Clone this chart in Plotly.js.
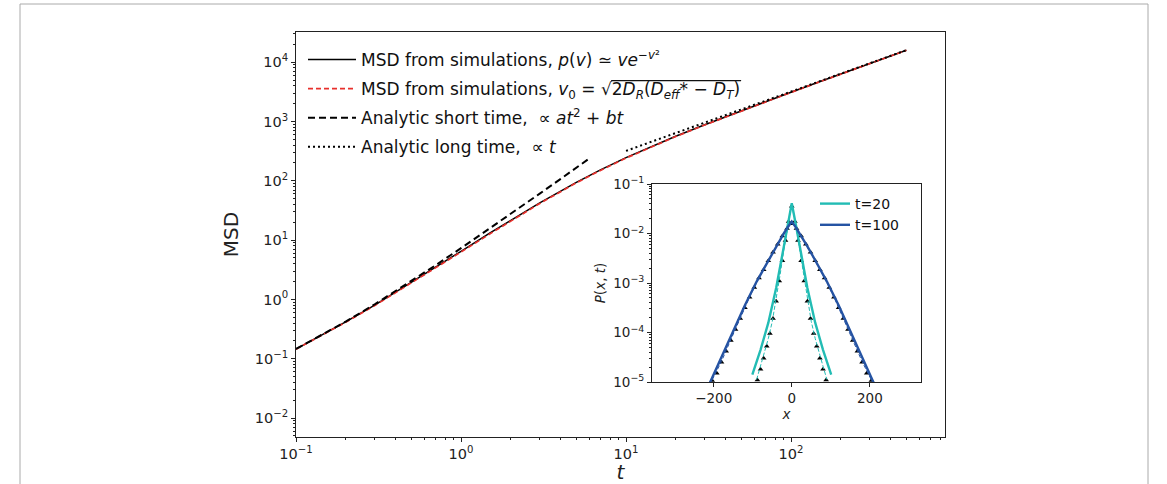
<!DOCTYPE html>
<html>
<head>
<meta charset="utf-8">
<script src="https://cdn.plot.ly/plotly-3.0.1.min.js"></script>
<style>html,body{margin:0;padding:0;background:#fff;}#chart{width:1167px;height:484px;}</style>
</head>
<body>
<div id="chart"></div>
<script>
// ---- main panel data ----
const tSim = [0.1,0.15,0.2,0.3,0.5,0.7,1,1.5,2,3,5,7,10,15,20,30,50,70,100,150,200,300,500];
const msdSimPv = [0.145,0.265,0.417,0.804,1.93,3.47,6.49,13.2,21.7,42.6,94.5,153,246,405,565,885,1526,2166,3126,4727,6327,9528,15930];
const msdSimV0 = [0.145,0.263,0.412,0.79,1.88,3.38,6.3,12.8,21.1,41.5,92.5,150,242,399,558,876,1512,2150,3105,4700,6300,9500,15900];
const tShort = [0.1,0.2,0.3,0.5,0.7,1,1.5,2,3,4,5,6];
const msdShort = [0.146,0.422,0.828,2.03,3.75,7.31,15.8,27.6,60.9,107,166.5,239];
const tLong = [10,20,50,100,200,500];
const msdLong = [320,640,1600,3200,6400,16000];

// ---- inset data ----
const x20 = [-101,-80,-60,-40,-20,-10,0,10,20,40,60,80,101];
const p20 = [1.41e-5,4.47e-5,1.58e-4,7.94e-4,5.62e-3,1.58e-2,4.07e-2,1.58e-2,5.62e-3,7.94e-4,1.58e-4,4.47e-5,1.41e-5];
const x20d = [-90,-80,-70,-60,-50,-40,-30,-20,-10,0,10,20,30,40,50,60,70,80,90];
const p20d = [1.12e-5,2.09e-5,3.80e-5,7.59e-5,1.66e-4,4.47e-4,1.45e-3,4.79e-3,1.51e-2,3.80e-2,1.51e-2,4.79e-3,1.45e-3,4.47e-4,1.66e-4,7.59e-5,3.80e-5,2.09e-5,1.12e-5];
const x20s = [-88,-80,-72,-64,-56,-48,-40,-32,-24,-16,-8,0,8,16,24,32,40,48,56,64,72,80,88];
const p20s = [1.10e-5,1.82e-5,3.02e-5,5.25e-5,9.55e-5,1.91e-4,4.27e-4,1.10e-3,2.82e-3,7.24e-3,1.74e-2,3.55e-2,1.74e-2,7.24e-3,2.82e-3,1.10e-3,4.27e-4,1.91e-4,9.55e-5,5.25e-5,3.02e-5,1.82e-5,1.10e-5];
const x100 = [-210,-180,-150,-120,-90,-60,-40,-20,-10,0,10,20,40,60,90,120,150,180,210];
const p100 = [9.55e-6,3.16e-5,1.05e-4,3.55e-4,1.07e-3,2.88e-3,5.50e-3,1.02e-2,1.35e-2,1.74e-2,1.35e-2,1.02e-2,5.50e-3,2.88e-3,1.07e-3,3.55e-4,1.05e-4,3.16e-5,9.55e-6];
const x100d = [-204,-180,-156,-132,-108,-84,-60,-36,-12,0,12,36,60,84,108,132,156,180,204];
const p100d = [1.10e-5,2.60e-5,7.20e-5,1.95e-4,5.20e-4,1.28e-3,2.80e-3,6.05e-3,1.27e-2,1.62e-2,1.27e-2,6.05e-3,2.80e-3,1.28e-3,5.20e-4,1.95e-4,7.20e-5,2.60e-5,1.10e-5];
const x100s = [-204,-192,-180,-168,-156,-144,-132,-120,-108,-96,-84,-72,-60,-48,-36,-24,-12,0,12,24,36,48,60,72,84,96,108,120,132,144,156,168,180,192,204];
const p100s = [1.07e-5,1.51e-5,2.51e-5,4.17e-5,6.92e-5,1.15e-4,1.91e-4,3.16e-4,5.13e-4,8.13e-4,1.26e-3,1.86e-3,2.82e-3,4.17e-3,6.03e-3,8.91e-3,1.26e-2,1.58e-2,1.26e-2,8.91e-3,6.03e-3,4.17e-3,2.82e-3,1.86e-3,1.26e-3,8.13e-4,5.13e-4,3.16e-4,1.91e-4,1.15e-4,6.92e-5,4.17e-5,2.51e-5,1.51e-5,1.07e-5];

// ---- tick labels ----
const mainXTicks = [0.1,1,10,100];
const mainXText = ['10<sup>−1</sup>','10<sup>0</sup>','10<sup>1</sup>','10<sup>2</sup>'];
const mainYTicks = [0.01,0.1,1,10,100,1000,10000];
const mainYText = ['10<sup>−2</sup>','10<sup>−1</sup>','10<sup>0</sup>','10<sup>1</sup>','10<sup>2</sup>','10<sup>3</sup>','10<sup>4</sup>'];
const insetXTicks = [-200,0,200];
const insetXText = ['−200','0','200'];
const insetYTicks = [1e-5,1e-4,1e-3,1e-2,1e-1];
const insetYText = ['10<sup>−5</sup>','10<sup>−4</sup>','10<sup>−3</sup>','10<sup>−2</sup>','10<sup>−1</sup>'];

const teal = '#22bcb4';
const blue = '#2553a3';
const FONT = 'DejaVu Sans, sans-serif';
const LEGFONT = 17;

const traces = [
  {x: tSim, y: msdSimPv, mode:'lines', line:{color:'#000', width:1.5}, legendgroup:'a',
   name:'MSD from simulations, <i>p</i>(<i>v</i>) ≃ <i>ve</i><sup>−<i>v</i>²</sup>'},
  {x: tSim, y: msdSimV0, mode:'lines', line:{color:'#e8302c', width:1.7, dash:'5px,3px'}, legendgroup:'b',
   name:'MSD from simulations, <i>v</i><sub>0</sub> = √2<i>D</i><sub><i>R</i></sub>(<i>D</i><sub><i>eff</i></sub>* − <i>D</i><sub><i>T</i></sub>)'},
  {x: tShort, y: msdShort, mode:'lines', line:{color:'#000', width:2, dash:'7px,4px'}, legendgroup:'c',
   name:'Analytic short time,  ∝ <i>at</i><sup>2</sup> + <i>bt</i>'},
  {x: tLong, y: msdLong, mode:'lines', line:{color:'#000', width:2, dash:'2px,3px'}, legendgroup:'d',
   name:'Analytic long time,  ∝ <i>t</i>'},
  // inset
  {x: x20s, y: p20s, xaxis:'x2', yaxis:'y2', mode:'markers', showlegend:false,
   marker:{symbol:'triangle-up', size:5, color:'#000'}},
  {x: x100s, y: p100s, xaxis:'x2', yaxis:'y2', mode:'markers', showlegend:false,
   marker:{symbol:'triangle-up', size:5, color:'#000'}},
  {x: x20d, y: p20d, xaxis:'x2', yaxis:'y2', mode:'lines', showlegend:false,
   line:{color:teal, width:1, dash:'4px,2px'}},
  {x: x100d, y: p100d, xaxis:'x2', yaxis:'y2', mode:'lines', showlegend:false,
   line:{color:blue, width:1, dash:'4px,2px'}},
  {x: x20, y: p20, xaxis:'x2', yaxis:'y2', mode:'lines', name:'t=20', legend:'legend2',
   line:{color:teal, width:2.4}},
  {x: x100, y: p100, xaxis:'x2', yaxis:'y2', mode:'lines', name:'t=100', legend:'legend2',
   line:{color:blue, width:2.4}}
];

const L = 296, R = 945, T = 32, B = 437;
const W = R - L, H = B - T;
const px = v => (v - L) / W;
const py = v => (B - v) / H;

const axisCommon = {
  showline:true, linecolor:'#222', linewidth:1, mirror:true, showgrid:false, zeroline:false,
  ticks:'outside', ticklen:4, tickwidth:1, tickcolor:'#222'
};

const layout = {
  width:1167, height:484,
  margin:{l:L, r:1167-R, t:T, b:484-B},
  paper_bgcolor:'#fff', plot_bgcolor:'#fff',
  font:{family:FONT, color:'#222', size:14},
  showlegend:true,
  xaxis: Object.assign({}, axisCommon, {
    type:'log', range:[-1, 2.933], domain:[0,1],
    tickmode:'array', tickvals:mainXTicks, ticktext:mainXText,
    tickfont:{size:14.5},
    minor:{dtick:'D1', ticks:'outside', ticklen:2, tickcolor:'#222', showgrid:false},
    title:{text:'<i>t</i>', font:{size:20}, standoff:6}
  }),
  yaxis: Object.assign({}, axisCommon, {
    type:'log', range:[-2.32, 4.51], domain:[0,1],
    tickmode:'array', tickvals:mainYTicks, ticktext:mainYText,
    tickfont:{size:14.5},
    minor:{dtick:'D1', ticks:'outside', ticklen:2, tickcolor:'#222', showgrid:false},
    title:{text:'MSD', font:{size:20}, standoff:10}
  }),
  xaxis2: Object.assign({}, axisCommon, {
    anchor:'y2', domain:[px(652), px(921)], range:[-358, 331],
    tickmode:'array', tickvals:insetXTicks, ticktext:insetXText,
    tickfont:{size:13.5},
    title:{text:'<i>x</i>', font:{size:13.5}, standoff:0}
  }),
  yaxis2: Object.assign({}, axisCommon, {
    anchor:'x2', type:'log', domain:[py(382), py(184)], range:[-5, -1],
    tickmode:'array', tickvals:insetYTicks, ticktext:insetYText,
    tickfont:{size:13.5},
    minor:{dtick:'D1', ticks:'outside', ticklen:2, tickcolor:'#222', showgrid:false},
    title:{text:'<i>P</i>(<i>x</i>, <i>t</i>)', font:{size:13.5}, standoff:4}
  }),
  legend:{x:px(303), y:py(42), xanchor:'left', yanchor:'top', bgcolor:'rgba(0,0,0,0)',
    borderwidth:0, font:{size:LEGFONT, family:FONT, color:'#111'}, itemwidth:48,
    traceorder:'grouped', tracegroupgap:4},
  legend2:{x:px(815), y:py(188), xanchor:'left', yanchor:'top', bgcolor:'rgba(0,0,0,0)',
    borderwidth:0, font:{size:14, family:FONT, color:'#111'}, itemwidth:30},
  shapes:[
    {type:'rect', xref:'paper', yref:'paper', x0:px(20), x1:px(1148), y0:py(500), y1:py(4),
     line:{color:'#aaaaaa', width:1}, fillcolor:'rgba(0,0,0,0)', layer:'below'}
  ]
};

Plotly.newPlot('chart', traces, layout, {displayModeBar:false, staticPlot:true}).then(gd => {
  // overline (vinculum) of the square root in the second legend entry
  try {
    const texts = gd.querySelectorAll('.legend .legendtext');
    let el = null;
    texts.forEach(t => { if (t.textContent.indexOf('√') >= 0) el = t; });
    if (!el) return;
    const s = el.textContent;
    const i0 = s.indexOf('√');
    const i1 = s.lastIndexOf(')');
    const e0 = el.getExtentOfChar(i0);
    const e1 = el.getExtentOfChar(i1);
    const base = el.getStartPositionOfChar(i0);
    const m = el.getScreenCTM();
    const host = gd.getBoundingClientRect();
    const toPage = (x, y) => ({x: m.a*x + m.c*y + m.e - host.left, y: m.b*x + m.d*y + m.f - host.top});
    const a = toPage(e0.x + e0.width - 0.6, base.y - 0.86*LEGFONT);
    const b = toPage(e1.x + e1.width + 1, base.y - 0.86*LEGFONT);
    const shapes = gd.layout.shapes.slice();
    shapes.push({type:'line', xref:'paper', yref:'paper', x0:px(a.x), x1:px(b.x), y0:py(a.y), y1:py(b.y),
                 line:{color:'#111', width:1.2}});
    Plotly.relayout(gd, {shapes: shapes});
  } catch (err) { console.error(err); }
});
</script>
</body>
</html>
